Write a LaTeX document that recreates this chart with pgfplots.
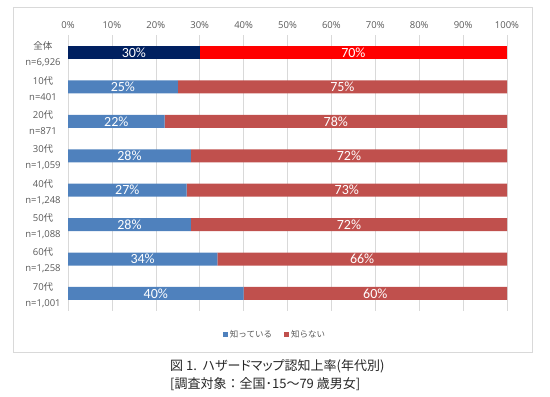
\documentclass[border=0pt]{standalone}
\usepackage{pgfplots}
\pgfplotsset{compat=1.18}
\usepackage{fontspec}
\setmainfont{Carlito}
\newfontfamily\cjk{Noto Sans CJK JP}
\newfontfamily\cjkp[RawFeature=+palt]{Noto Sans CJK JP}
\newfontfamily\seg{Open Sans}
\definecolor{cblue}{HTML}{4F81BD}
\definecolor{cred}{HTML}{C0504D}
\definecolor{cnavy}{HTML}{002060}
\definecolor{cbright}{HTML}{FF0000}
\definecolor{gridgray}{HTML}{D9D9D9}
\definecolor{txtgray}{HTML}{595959}
\begin{document}
\begin{tikzpicture}[x=1pt,y=1pt]
\path (0,0) rectangle (550,397);
\draw[gridgray, line width=0.8pt] (13,45) rectangle (532,390);
\pgfplotsset{myaxis/.style={scale only axis, width=439pt, height=275.4pt,
  at={(68pt,86.3pt)}, anchor=south west, xmin=0, xmax=100,
  ymin=-0.5, ymax=7.5, y dir=reverse, bar width=13pt}}
\begin{axis}[myaxis, xbar stacked,
  xmajorgrids, grid style={gridgray, line width=0.6pt},
  axis line style={draw=none}, major tick style={draw=none},
  xtick={0,10,...,100},
  xticklabel={\pgfmathprintnumber[assume math mode=true]{\tick}\%},
  xticklabel pos=upper,
  xticklabel style={font=\seg\fontsize{9.5}{11}\selectfont, text=txtgray, yshift=3pt},
  ytick={0,...,7},
  yticklabels={{{\cjk 全体}\\n=6,926},{10{\cjk 代}\\n=401},{20{\cjk 代}\\n=871},{30{\cjk 代}\\n=1,059},{40{\cjk 代}\\n=1,248},{50{\cjk 代}\\n=1,088},{60{\cjk 代}\\n=1,258},{70{\cjk 代}\\n=1,001}},
  yticklabel style={font=\seg\fontsize{9.5}{16}\selectfont, text=txtgray, align=center, anchor=center, xshift=-25pt, yshift=-1.5pt},
  legend style={at={(0.4715,0)}, anchor=center, yshift=-24pt, draw=none, fill=none,
    legend columns=2, font=\cjk\fontsize{8.5}{10}\selectfont, text=txtgray,
    /tikz/every even column/.append style={column sep=10pt}},
  legend image code/.code={\fill[#1] (0pt,-2.5pt) rectangle (5pt,2.5pt);},
]
\addplot[fill=cblue, draw=none] coordinates {(25,1) (22,2) (28,3) (27,4) (28,5) (34,6) (40,7)};
\addplot[fill=cred, draw=none] coordinates {(75,1) (78,2) (72,3) (73,4) (72,5) (66,6) (60,7)};
\addlegendentry{知っている}
\addlegendentry{知らない}
\end{axis}
\begin{axis}[myaxis, xbar stacked, hide axis]
\addplot[fill=cnavy, draw=none] coordinates {(30,0)};
\addplot[fill=cbright, draw=none] coordinates {(70,0)};
\end{axis}
\begin{axis}[myaxis, hide axis]
\addplot[draw=none, mark=none, nodes near coords, point meta=explicit symbolic,
  every node near coord/.append style={font=\fontsize{14}{16}\selectfont, text=white, anchor=center}]
  coordinates {(15,0)[30\%] (65,0)[70\%] (12.5,1)[25\%] (62.5,1)[75\%] (11,2)[22\%] (61,2)[78\%]
  (14,3)[28\%] (64,3)[72\%] (13.5,4)[27\%] (63.5,4)[73\%] (14,5)[28\%] (64,5)[72\%]
  (17,6)[34\%] (67,6)[66\%] (20,7)[40\%] (70,7)[60\%]};
\end{axis}
\node[font=\cjkp\fontsize{13}{15}\selectfont, text=black!85, anchor=west, inner sep=0pt] at (170,31) {図 1.\ \ ハザードマップ認知上率(年代別)};
\node[font=\cjk\fontsize{13}{15}\selectfont, text=black!85, anchor=west, inner sep=0pt] at (170,13) {[調査対象：全国･15～79 歳男女]};
\end{tikzpicture}
\end{document}
